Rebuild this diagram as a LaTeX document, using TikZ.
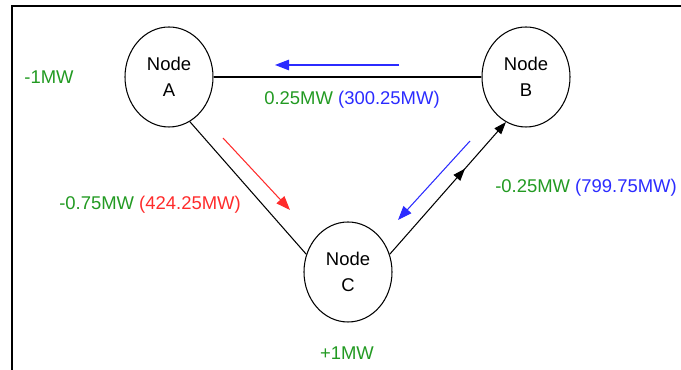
\documentclass[tikz,border=0pt]{standalone}
\usepackage{fontspec}
\setmainfont{Liberation Sans}
\usetikzlibrary{arrows.meta,positioning,calc,shapes.geometric,decorations.markings}
\definecolor{flowgreen}{HTML}{229A22}
\definecolor{flowblue}{HTML}{2B2BFF}
\definecolor{flowred}{HTML}{FF2B2B}

\begin{document}
\begin{tikzpicture}[
    busnode/.style={
      draw=black, line width=0.6pt, ellipse,
      minimum width=1.76cm, minimum height=2.0cm, inner sep=0pt,
      align=center, font=\fontsize{10.5}{14.5}\selectfont,
    },
    line/.style={draw=black, line width=0.6pt},
    flow/.style={-{Triangle[length=8pt,width=6pt]}, line width=0.6pt, #1},
    lbl/.style={font=\fontsize{10.5}{13}\selectfont, inner sep=0pt},
    midarrow/.style={decoration={markings,
      mark=at position #1 with {\arrow{Triangle[length=7pt,width=5pt]}}},
      postaction={decorate}},
  ]
  \useasboundingbox (0,0) rectangle (13.62,7.4);

  % =================== FRAME ===================
  \draw[line width=1.2pt] (0.24,0) -- (0.24,7.28) -- (13.62,7.28);

  % =================== NODES ===================
  \node[busnode] (A) at (3.38, 5.86) {Node\\A};
  \node[busnode] (B) at (10.52, 5.86) {Node\\B};
  \node[busnode] (C) at (6.96, 1.96) {Node\\C};

  % Lines between nodes
  \draw[line] (A) -- (B);
  \draw[line] (A.-65) -- (C.157);
  \draw[line, midarrow=0.65, -{Triangle[length=7pt,width=5pt]}] (C.23) -- (B.-114);

  % =================== FLOW ARROWS ===================
  \coordinate (ab1) at (7.98, 6.10);
  \coordinate (ab2) at (5.50, 6.10);
  \coordinate (ac1) at (4.46, 4.64);
  \coordinate (ac2) at (5.80, 3.20);
  \coordinate (bc1) at (9.40, 4.58);
  \coordinate (bc2) at (7.96, 3.00);
  \draw[flow=flowblue] (ab1) -- (ab2);
  \draw[flow=flowred] (ac1) -- (ac2);
  \draw[flow=flowblue] (bc1) -- (bc2);

  % =================== LABELS ===================
  \node[lbl, text=flowgreen] (injA) at (0.98, 5.86) {-1MW};
  \node[lbl, text=flowgreen] (injC) at (6.94, 0.34) {+1MW};
  \node[lbl] (fAB) at (7.04, 5.40)
    {\textcolor{flowgreen}{0.25MW} \textcolor{flowblue}{(300.25MW)}};
  \node[lbl] (fAC) at (3.00, 3.30)
    {\textcolor{flowgreen}{-0.75MW} \textcolor{flowred}{(424.25MW)}};
  \node[lbl] (fBC) at (11.72, 3.64)
    {\textcolor{flowgreen}{-0.25MW} \textcolor{flowblue}{(799.75MW)}};

\end{tikzpicture}
\end{document}
